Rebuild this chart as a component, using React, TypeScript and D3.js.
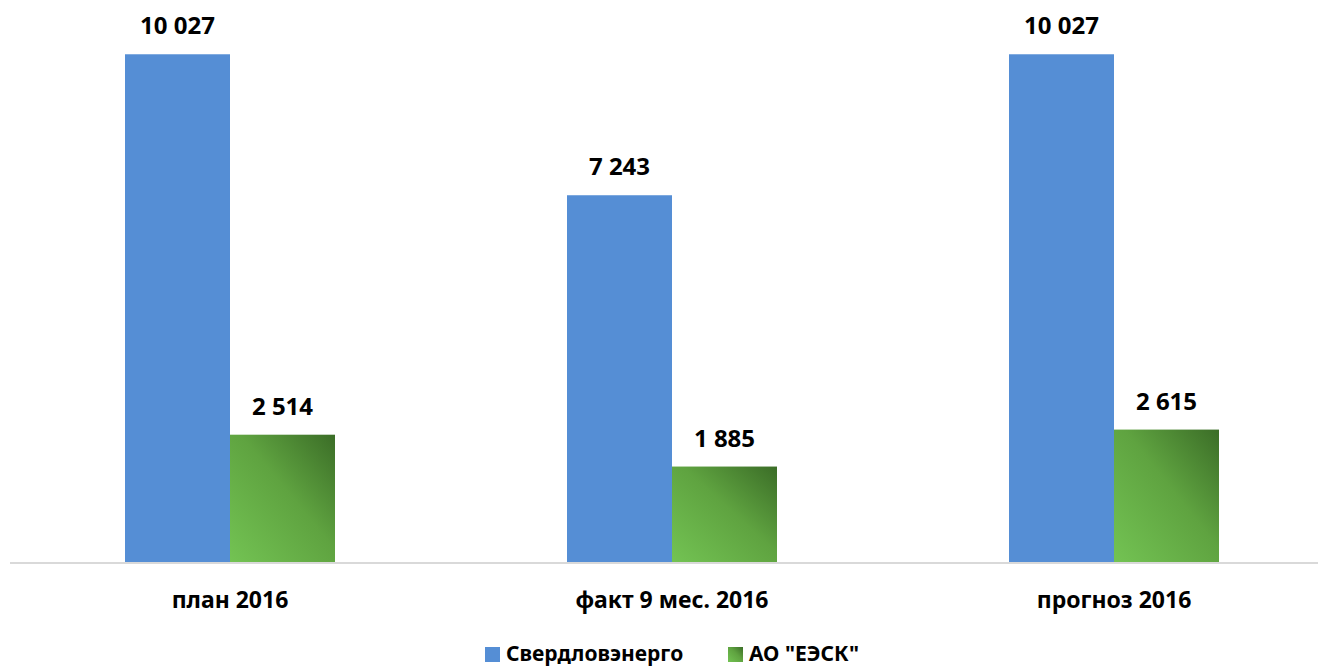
import React from 'react';
import * as d3 from 'd3';

const categories = ['план 2016', 'факт 9 мес. 2016', 'прогноз 2016'];
const seriesNames = ['Свердловэнерго', 'АО "ЕЭСК"'];
const sverdlovValues = [10027, 7243, 10027];
const eeskValues = [2514, 1885, 2615];

const WIDTH = 1318;
const HEIGHT = 668;
const FONT = '"Noto Sans", "Open Sans", sans-serif';
const BLUE = '#558ed5';

const fmt = (v: number) => d3.format(',')(v).replace(/,/g, ' ');

export default function App() {
  const x0 = d3.scalePoint<string>().domain(categories).range([9, 1335]).padding(0.5);
  const x1 = d3.scaleBand<string>().domain(seriesNames).range([-105, 105]);
  const y = d3.scaleLinear().domain([0, 11000]).range([562, 5]);

  const rows = categories.map((c, i) => ({
    cat: c,
    vals: [sverdlovValues[i], eeskValues[i]],
  }));

  // legend layout
  const legendItems = [
    {name: seriesNames[0], x: 485, fill: BLUE},
    {name: seriesNames[1], x: 728, fill: 'url(#green-grad)'},
  ];

  return (
    <svg
      width={WIDTH}
      height={HEIGHT}
      style={{position: 'absolute', left: 0, top: 0, background: '#fff'}}
      fontFamily={FONT}
    >
      <defs>
        <linearGradient id="green-grad" x1="0" y1="1" x2="1" y2="0">
          <stop offset="0%" stopColor="#73c353" />
          <stop offset="55%" stopColor="#5fa340" />
          <stop offset="100%" stopColor="#3b6d27" />
        </linearGradient>
      </defs>

      {/* axis line */}
      <line x1={10} x2={WIDTH} y1={y(0) + 1} y2={y(0) + 1} stroke="#d9d9d9" strokeWidth={2} />

      {rows.map((r) => (
        <g key={r.cat} transform={`translate(${x0(r.cat)},0)`}>
          {r.vals.map((v, j) => {
            const bx = x1(seriesNames[j])!;
            const bw = x1.bandwidth();
            return (
              <g key={j}>
                <rect
                  x={bx}
                  y={y(v)}
                  width={bw}
                  height={y(0) - y(v)}
                  fill={j === 0 ? BLUE : 'url(#green-grad)'}
                />
                <text
                  x={bx + bw / 2}
                  y={y(v) - 20}
                  textAnchor="middle"
                  fontSize={24}
                  fontWeight={700}
                  fill="#000"
                >
                  {fmt(v)}
                </text>
              </g>
            );
          })}
          <text y={608} textAnchor="middle" fontSize={23} fontWeight={700} fill="#000">
            {r.cat}
          </text>
        </g>
      ))}

      {legendItems.map((l) => (
        <g key={l.name}>
          <rect x={l.x} y={647} width={15} height={15} fill={l.fill} />
          <text x={l.x + 21} y={661} fontSize={21} fontWeight={700} fill="#000">
            {l.name}
          </text>
        </g>
      ))}
    </svg>
  );
}
